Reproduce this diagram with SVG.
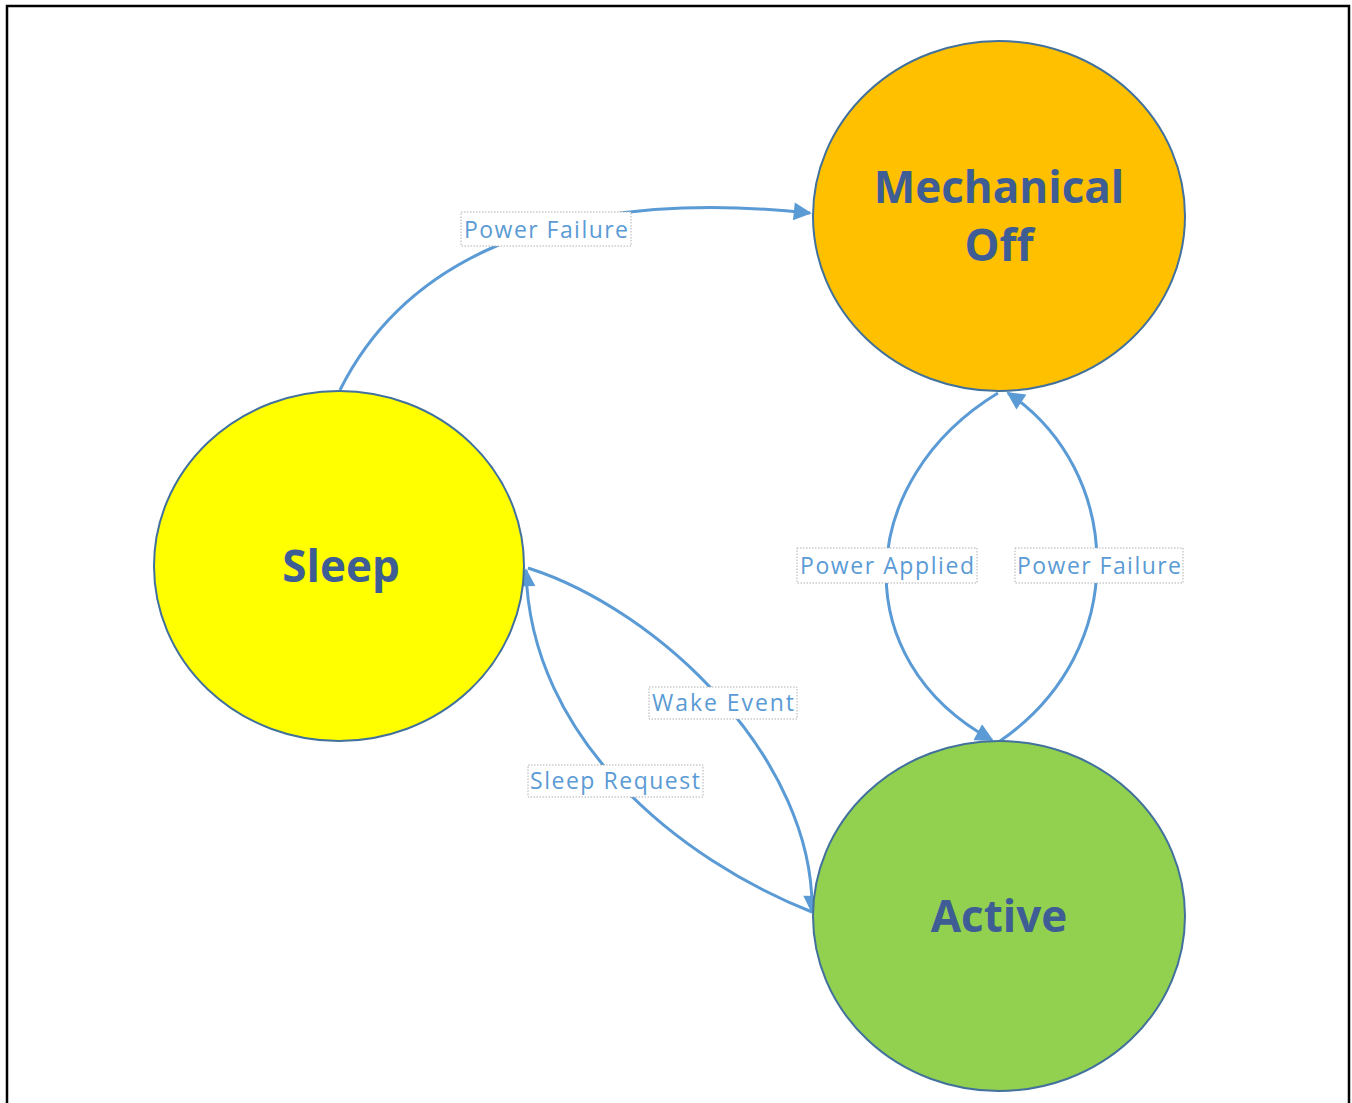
<svg xmlns="http://www.w3.org/2000/svg" width="1352" height="1103" viewBox="0 0 1352 1103">
<style>
.node{stroke:#41719C;stroke-width:2}
.title{font-family:"Open Sans","Liberation Sans",sans-serif;font-weight:bold;font-size:44px;fill:#3E5D94;text-anchor:middle}
.edge{fill:none;stroke:#5B9BD5;stroke-width:3}
.lbox{fill:#fff;stroke:#b0b0b0;stroke-width:1;stroke-dasharray:1.5 1.5}
.lbl{font-family:"Open Sans","Liberation Sans",sans-serif;font-size:23px;fill:#5B9BD5;text-anchor:middle}
</style>
<defs>
<marker id="arr" viewBox="0 0 10 10" refX="9" refY="5" markerWidth="6.5" markerHeight="6" markerUnits="strokeWidth" orient="auto">
<path d="M0,0 L10,5 L0,10 z" fill="#5B9BD5"/>
</marker>
</defs>
<rect x="0" y="0" width="1352" height="1103" fill="#fff"/>
<path d="M7,1103 V6 H1349 V1103" fill="none" stroke="#000" stroke-width="2.5"/>
<g id="connectors">
<g id="e1"><path class="edge" d="M340,390 C400,270 540,185 810,213" marker-end="url(#arr)"/>
<rect class="lbox" x="461" y="212" width="170" height="34"/><text class="lbl" x="546" y="238" textLength="164" lengthAdjust="spacing">Power Failure</text></g>
<g id="e2"><path class="edge" d="M998,393 C855,480 845,660 992,740" marker-end="url(#arr)"/>
<rect class="lbox" x="797" y="548" width="180" height="35"/><text class="lbl" x="887" y="574" textLength="174" lengthAdjust="spacing">Power Applied</text></g>
<g id="e3"><path class="edge" d="M1000,741 C1133,650 1123,470 1008,393" marker-end="url(#arr)"/>
<rect class="lbox" x="1015" y="548" width="168" height="35"/><text class="lbl" x="1099" y="574" textLength="164" lengthAdjust="spacing">Power Failure</text></g>
<g id="e4"><path class="edge" d="M528,568 C660,610 815,760 812,912" marker-end="url(#arr)"/>
<rect class="lbox" x="649" y="687" width="148" height="32"/><text class="lbl" x="723" y="711" textLength="142" lengthAdjust="spacing">Wake Event</text></g>
<g id="e5"><path class="edge" d="M812,912 C680,860 530,740 526,570" marker-end="url(#arr)"/>
<rect class="lbox" x="528" y="765" width="175" height="32"/><text class="lbl" x="615" y="789" textLength="170" lengthAdjust="spacing">Sleep Request</text></g>
</g>
<g id="mechoff"><ellipse class="node" cx="999" cy="216" rx="186" ry="175" fill="#FFC000"/>
<text class="title" x="999" y="203">Mechanical</text><text class="title" x="999" y="261">Off</text></g>
<g id="sleep"><ellipse class="node" cx="339" cy="566" rx="185" ry="175" fill="#FFFF00"/>
<text class="title" x="341" y="582">Sleep</text></g>
<g id="active"><ellipse class="node" cx="999" cy="916" rx="186" ry="175" fill="#92D050"/>
<text class="title" x="999" y="932">Active</text></g>
</svg>
